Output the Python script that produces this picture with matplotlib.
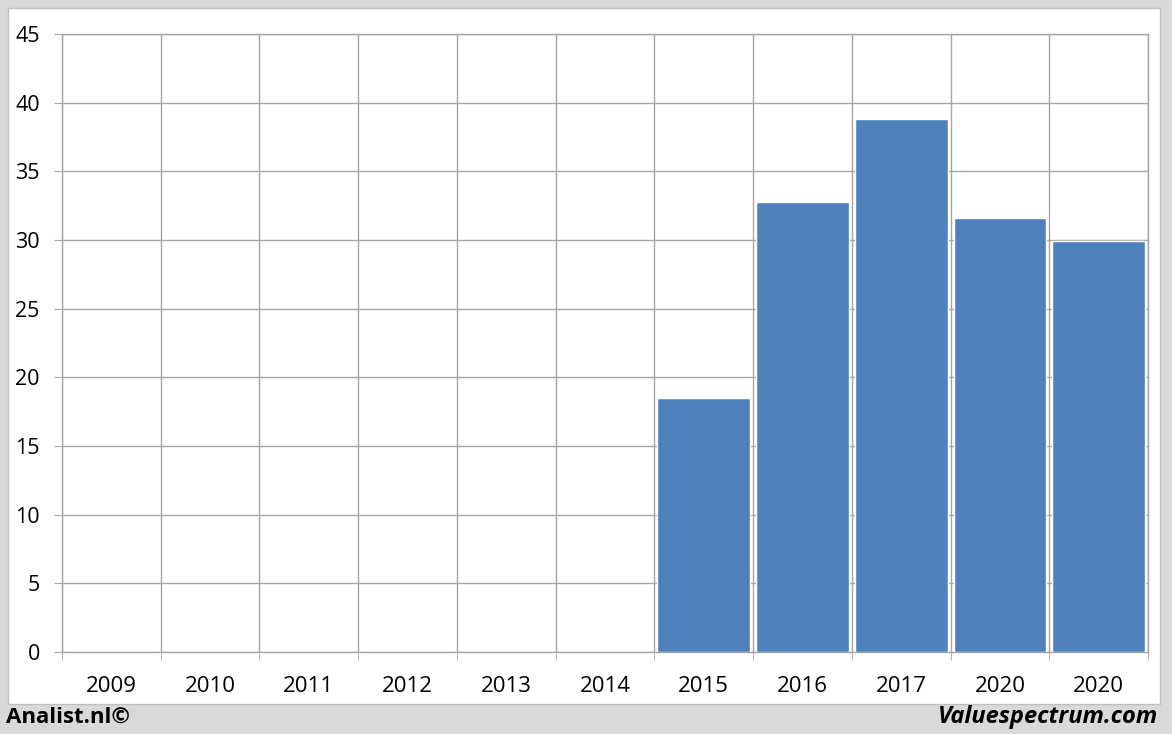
import numpy as np
import matplotlib.pyplot as plt
from matplotlib.patches import Rectangle

# data
years = ['2009', '2010', '2011', '2012', '2013', '2014', '2015', '2016', '2017', '2020', '2020']
values = [0, 0, 0, 0, 0, 0, 18.5, 32.8, 38.8, 31.6, 29.9]
y_ticks = [0, 5, 10, 15, 20, 25, 30, 35, 40, 45]

plt.rcParams['font.family'] = ['Open Sans', 'DejaVu Sans']

W, H = 1172, 734
fig = plt.figure(figsize=(W / 100, H / 100), dpi=100)
fig.patch.set_facecolor('#d9d9d9')

# white panel behind the chart
fig.patches.append(Rectangle((8 / W, 1 - 704 / H), (1160 - 8) / W, (704 - 8) / H,
                             transform=fig.transFigure, facecolor='white',
                             edgecolor='#bfbfbf', linewidth=1, zorder=-5))

ax = fig.add_axes([62 / W, 1 - 652 / H, (1148 - 62) / W, (652 - 34) / H])
ax.set_facecolor('white')

x = np.arange(len(years))
ax.bar(x, values, width=0.94, color='#4f81bd', edgecolor='white', linewidth=1, zorder=3)

grid_col = '#a6a6a6'
ax.set_xlim(-0.5, len(years) - 0.5)
ax.set_ylim(0, 45)
ax.set_yticks(y_ticks)
ax.set_xticks(x)
ax.set_xticklabels(years)
ax.set_xticks(np.arange(-0.5, len(years)), minor=True)

ax.tick_params(axis='x', which='major', length=0, pad=17, labelsize=16)
ax.tick_params(axis='x', which='minor', length=6, color=grid_col, direction='out')
ax.tick_params(axis='y', length=6, color=grid_col, pad=10, labelsize=15.5)

ax.grid(axis='y', which='major', color=grid_col, linewidth=1, zorder=0)
ax.grid(axis='x', which='minor', color=grid_col, linewidth=1, zorder=0)
ax.set_axisbelow(True)

for s in ax.spines.values():
    s.set_color(grid_col)
    s.set_linewidth(1)

fig.text(6 / W, 1 - 717 / H, 'Analist.nl©', fontsize=16, fontweight='bold',
         va='center', ha='left')
fig.text(1158 / W, 1 - 717 / H, 'Valuespectrum.com', fontsize=17, fontweight='bold',
         fontstyle='italic', va='center', ha='right')

fig.savefig('out.png', dpi=100, facecolor=fig.get_facecolor())
